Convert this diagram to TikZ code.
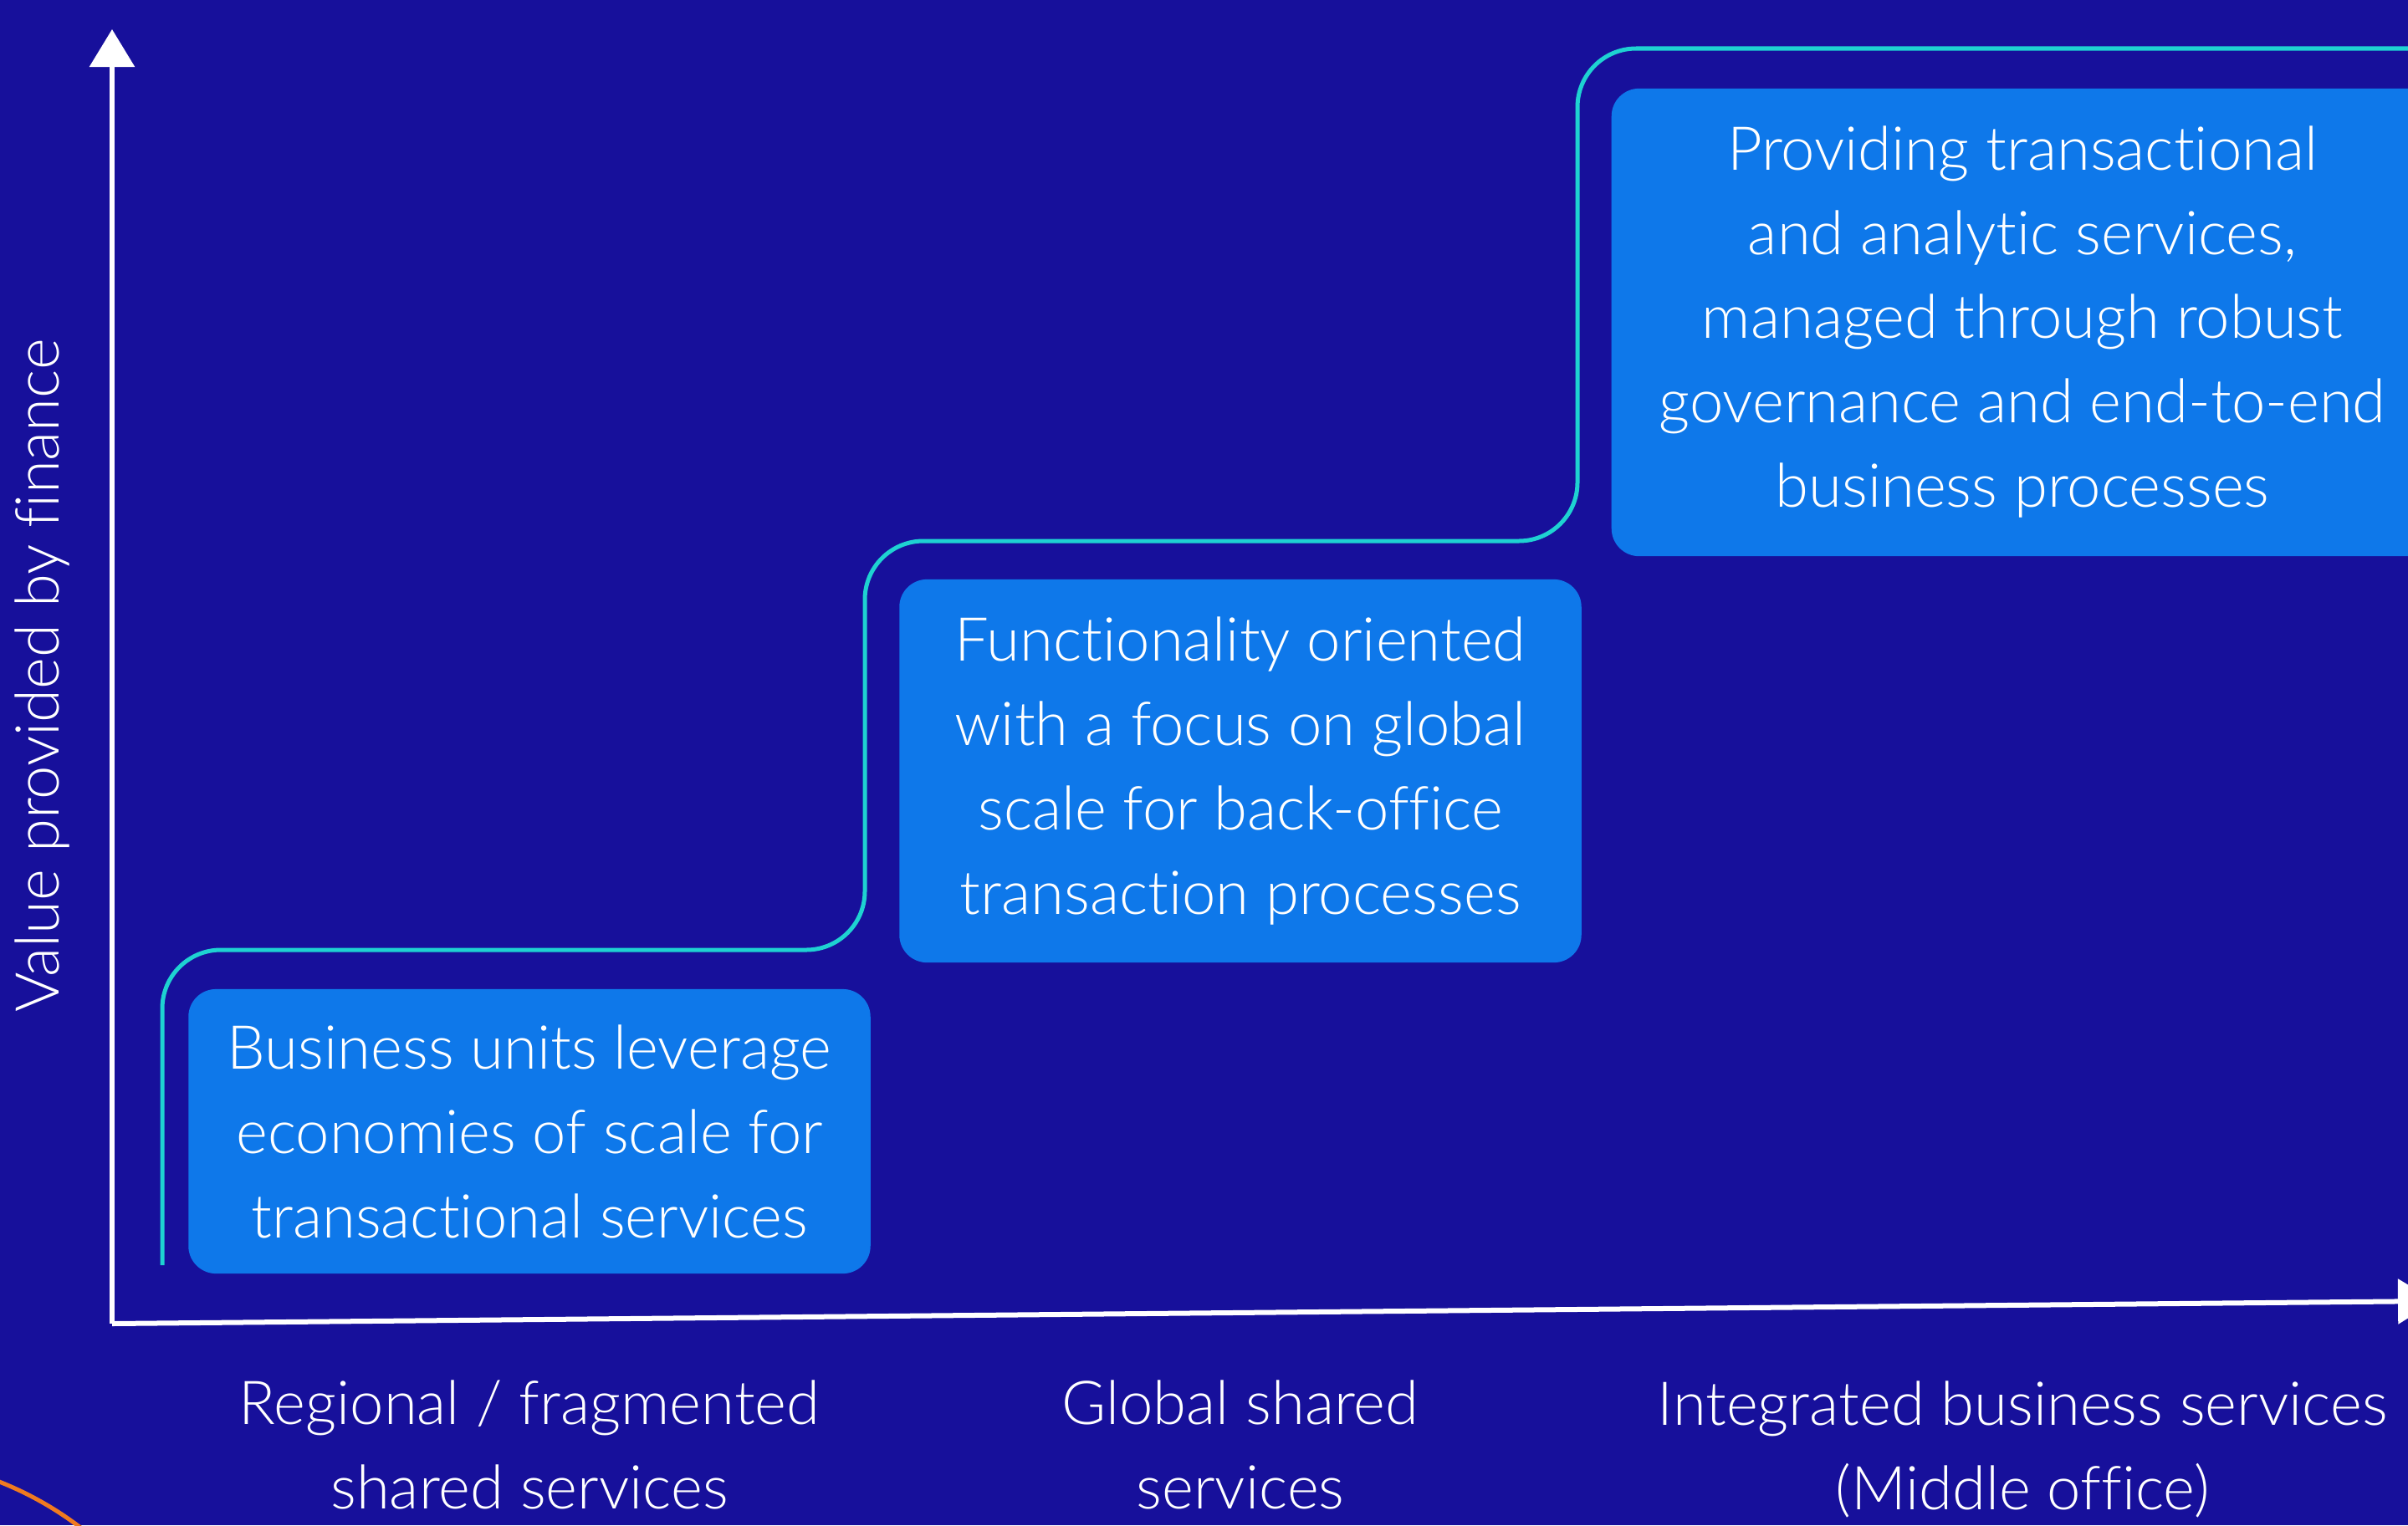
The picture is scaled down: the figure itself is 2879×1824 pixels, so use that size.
\documentclass[tikz,border=0pt]{standalone}
\usepackage{fontspec}
\setmainfont{Lato}[UprightFont=* Light, Ligatures={NoCommon,NoRare}]
\usetikzlibrary{arrows.meta}
\definecolor{bgblue}{HTML}{17109B}
\definecolor{boxblue}{HTML}{0E78EA}
\definecolor{teal}{HTML}{1ED2D2}
\definecolor{orng}{HTML}{F07A20}
\tikzset{
  box/.style={fill=boxblue, rounded corners=0.33cm, text=white, align=center,
    inner sep=0pt, font=\fontsize{20.6}{28.7}\selectfont},
  lbl/.style={text=white, align=center, inner sep=0pt, font=\fontsize{20.6}{28.7}\selectfont},
  axis/.style={draw=white, line width=0.06cm, -{Triangle[length=0.45cm,width=0.53cm]}},
  stair/.style={draw=teal, line width=0.05cm, rounded corners=0.7cm},
}
\begin{document}
\begin{tikzpicture}[x=0.01cm, y=-0.01cm]
\fill[bgblue] (0,0) rectangle (2879,1824);
\useasboundingbox (0,0) rectangle (2879,1824);
\clip (0,0) rectangle (2879,1824);
% orange arc
\draw[orng, line width=0.05cm] (-150,2150) circle[radius=4.06cm];
% boxes
\node[box, minimum width=8.15cm, minimum height=3.4cm] (b1) at (633,1353)
  {Business units leverage\\economies of scale for\\transactional services};
\node[box, minimum width=8.15cm, minimum height=4.58cm] (b2) at (1483,922)
  {Functionality oriented\\with a focus on global\\scale for back-office\\transaction processes};
\node[box, minimum width=9.82cm, minimum height=5.59cm] (b3) at (2418,385.5) {};
\node[lbl] (t3) at (2418,385)
  {Providing transactional\\and analytic services,\\managed through robust\\governance and end-to-end\\business processes};
% staircase
\coordinate (s0) at (194,1513);
\coordinate (s1) at (1034,1136);
\coordinate (s2) at (1886,647);
\coordinate (s3) at (2900,58);
\draw[stair] (s0) |- (s1) |- (s2) |- (s3);
% axes
\coordinate (o) at (134,1583);
\coordinate (ytip) at (134,35);
\coordinate (xtip) at (2912,1556);
\draw[axis] (o) -- (ytip);
\draw[axis] (o) -- (xtip);
% axis labels
\node[lbl, rotate=90] (ylab) at (51,808) {Value provided by finance};
\node[lbl] (x1) at (633,1728) {Regional / fragmented\\shared services};
\node[lbl] (x2) at (1483,1728) {Global shared\\services};
\node[lbl] (x3) at (2418,1733) {Integrated business services\\(Middle office)};
\end{tikzpicture}
\end{document}
